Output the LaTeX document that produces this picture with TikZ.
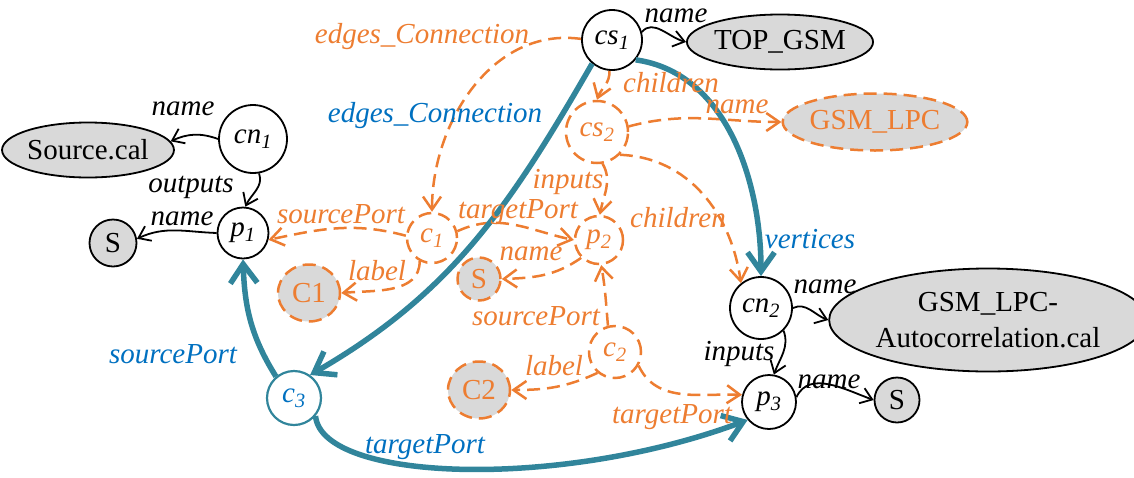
\documentclass[tikz,border=0pt]{standalone}
\usepackage{fontspec}
\setmainfont{Liberation Serif}
\usetikzlibrary{arrows.meta,shapes.geometric}
\definecolor{orng}{RGB}{237,125,49}
\definecolor{tealc}{RGB}{49,133,155}
\definecolor{blu}{RGB}{0,112,192}
\definecolor{gry}{RGB}{217,217,217}
\begin{document}
\begin{tikzpicture}[x=1pt,y=1pt,
 every node/.style={font=\fontsize{29}{36}\selectfont},
 vtx/.style={circle,draw,line width=1.8pt,inner sep=0pt},
 ovtx/.style={circle,draw=orng,text=orng,line width=2.5pt,dash pattern=on 13pt off 7pt,inner sep=0pt},
 lit/.style={ellipse,draw,fill=gry,line width=1.8pt,inner sep=0pt},
 olit/.style={ellipse,draw=orng,fill=gry,text=orng,line width=2.5pt,dash pattern=on 13pt off 7pt,inner sep=0pt},
 blk/.style={draw,line width=1.8pt,-{Straight Barb[length=11pt,width=16pt]}},
 oed/.style={draw=orng,line width=2.5pt,dash pattern=on 13pt off 7pt,-{Straight Barb[length=13pt,width=18pt]}},
 ted/.style={draw=tealc,line width=5.5pt,-{Straight Barb[length=19pt,width=27pt]}},
 lbl/.style={font=\fontsize{29}{36}\selectfont\itshape,anchor=base,inner sep=0pt},
 olbl/.style={lbl,text=orng},
 blbl/.style={lbl,text=blu},
]
\useasboundingbox (0,0) rectangle (1134,-477);
% nodes
\node[vtx,minimum size=60pt] (cs1) at (612,-40) {\itshape cs\textsubscript{1}};
\node[lit,minimum width=175pt,minimum height=55pt] (top) at (780,-42) {TOP\_GSM};
\node[ovtx,minimum size=62pt] (cs2) at (597,-132) {\itshape cs\textsubscript{2}};
\node[olit,minimum width=170pt,minimum height=57pt] (lpc) at (875,-122) {GSM\_LPC};
\node[vtx,minimum size=68pt] (cn1) at (253,-139) {\itshape cn\textsubscript{1}};
\node[lit,minimum width=163pt,minimum height=55pt] (src) at (88,-150) {Source.cal};
\node[vtx,minimum size=51pt] (p1) at (243,-233) {\itshape p\textsubscript{1}};
\node[vtx,fill=gry,minimum size=47pt] (s1) at (113,-243) {S};
\node[ovtx,minimum size=50pt] (c1) at (432,-238) {\itshape c\textsubscript{1}};
\node[ovtx,minimum size=48pt] (p2) at (599,-240) {\itshape p\textsubscript{2}};
\node[ovtx,fill=gry,minimum size=43pt] (s2) at (479,-279) {S};
\node[olit,minimum width=62pt,minimum height=57pt] (C1) at (309,-293) {C1};
\node[vtx,minimum size=62pt] (cn2) at (761,-308) {\itshape cn\textsubscript{2}};
\node[lit,minimum width=285pt,minimum height=103pt,align=center] (auto) at (988,-320) {GSM\_LPC-\\Autocorrelation.cal};
\node[vtx,minimum size=54pt] (p3) at (769,-402) {\itshape p\textsubscript{3}};
\node[vtx,fill=gry,minimum size=45pt] (s3) at (897,-400) {S};
\node[ovtx,minimum size=52pt] (c2) at (615,-352) {\itshape c\textsubscript{2}};
\node[olit,minimum width=62pt,minimum height=57pt] (C2) at (479,-390) {C2};
\node[vtx,draw=tealc,text=blu,line width=2.2pt,minimum size=54pt] (c3) at (294,-398) {\itshape c\textsubscript{3}};
% black edges
\draw[blk] (cn1.west) to[out=160,in=25] (src.6);
\draw[blk] (cn1.-80) to[out=-70,in=65] (p1.85);
\draw[blk] (p1.west) to[out=178,in=25] (s1.10);
\draw[blk] (cs1.15) to[out=50,in=165] (top.west);
\draw[blk] (cn2.east) to[out=25,in=160] (auto.west);
\draw[blk] (cn2.-45) to[out=-70,in=70] (p3.80);
\draw[blk] (p3.10) to[out=65,in=160] (s3.west);
% orange dashed edges
\draw[oed] (cs1.178) to[out=172,in=90] (c1.north);
\draw[oed] (cs1.-95) to[out=-85,in=70] (cs2.north);
\draw[oed] (cs2.10) to[out=15,in=180] (lpc.west);
\draw[oed] (cs2.-80) to[out=-60,in=80] (p2.88);
\draw[oed] (cs2.-45) to[out=-2,in=98] (cn2.129);
\draw[oed] (c1.175) to[out=165,in=12] (p1.-15);
\draw[oed] (c1.15) to[out=25,in=168] (p2.west);
\draw[oed] (c1.-118) to[out=-90,in=5] (C1.east);
\draw[oed] (p2.-135) to[out=-145,in=2] (s2.east);
\draw[oed] (c2.105) to[out=95,in=-80] (p2.-85);
\draw[oed] (c2.-130) to[out=-155,in=0] (C2.east);
\draw[oed] (c2.-30) to[out=-65,in=178] (p3.165);
% teal edges
\draw[ted] (cs1.-130) to[out=-120,in=30] (c3.55);
\draw[ted] (cs1.-40) to[out=-8,in=90,looseness=0.95] (cn2.north);
\draw[ted] (c3.130) to[out=122,in=-88] (p1.south);
\draw[ted] (c3.-40) .. controls (322,-482) and (560,-490) .. (p3.-140);
% labels
\node[lbl] (l1) at (183,-115) {name};
\node[lbl] (l2) at (191,-192) {outputs};
\node[lbl] (l3) at (182,-225) {name};
\node[lbl] (l4) at (676,-22) {name};
\node[lbl] (l5) at (825,-293) {name};
\node[lbl] (l6) at (739,-360) {inputs};
\node[lbl] (l7) at (829,-388) {name};
\node[olbl] (o1) at (422,-43) {edges\_Connection};
\node[olbl] (o2) at (671,-92) {children};
\node[olbl] (o3) at (737,-113) {name};
\node[olbl] (o4) at (568,-188) {inputs};
\node[olbl] (o5) at (678,-227) {children};
\node[olbl] (o6) at (341,-223) {sourcePort};
\node[olbl] (o7) at (518,-218) {targetPort};
\node[olbl] (o8) at (377,-280) {label};
\node[olbl] (o9) at (531,-260) {name};
\node[olbl] (o10) at (536,-325) {sourcePort};
\node[olbl] (o11) at (554,-375) {label};
\node[olbl] (o12) at (672,-423) {targetPort};
\node[blbl] (b1) at (435,-122) {edges\_Connection};
\node[blbl] (b2) at (810,-248) {vertices};
\node[blbl] (b3) at (173,-363) {sourcePort};
\node[blbl] (b4) at (425,-453) {targetPort};
\end{tikzpicture}
\end{document}
